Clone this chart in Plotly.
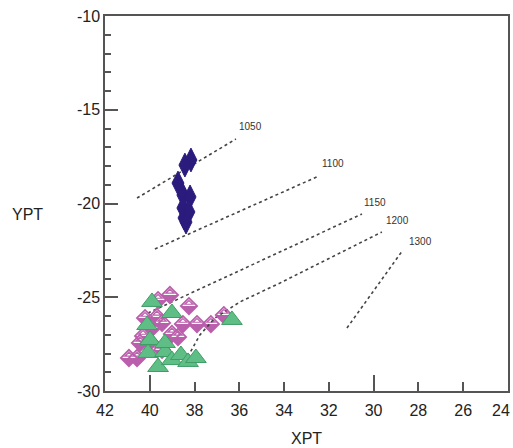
import plotly.graph_objects as go

# ---- data -------------------------------------------------------------
navy_x = [38.16, 38.43, 38.74, 38.52, 38.20, 38.52, 38.25, 38.47, 38.38]
navy_y = [-17.68, -17.95, -18.91, -19.55, -19.65, -20.24, -20.45, -20.77, -20.99]

pink_x = [40.93, 40.57, 40.21, 39.68, 39.45, 39.63, 39.10, 38.25, 38.52, 37.89,
          37.27, 36.69, 39.01, 40.30, 39.99, 40.44, 39.45, 39.90, 38.74]
pink_y = [-28.24, -28.24, -26.11, -26.05, -26.37, -25.15, -24.88, -25.47, -26.43, -26.43,
          -26.43, -25.95, -26.96, -27.07, -27.39, -27.44, -27.81, -26.64, -27.12]

green_x = [39.90, 39.01, 36.33, 40.12, 39.99, 40.08, 39.32, 39.63, 39.01, 38.61,
           38.29, 37.94, 39.32]
green_y = [-25.25, -25.84, -26.21, -26.48, -27.28, -27.97, -27.92, -28.72, -28.35, -28.08,
           -28.45, -28.24, -27.44]

iso_labels = ["1050", "1100", "1150", "1200", "1300"]
iso_x = [
    [40.57, 36.15],
    [39.77, 32.44],
    [40.08, 30.52],
    [38.43, 37.76, 37.09, 35.97, 34.18, 31.95, 29.63],
    [31.19, 28.69],
]
iso_y = [
    [-19.71, -16.56],
    [-22.43, -18.53],
    [-25.84, -20.56],
    [-28.45, -27.01, -26.11, -25.25, -24.24, -22.91, -21.52],
    [-26.64, -22.48],
]
label_x = [35.52, 31.82, 29.94, 28.91, 27.89]
label_y = [-15.87, -17.89, -19.97, -20.93, -22.05]

x_ticks = [42, 40, 38, 36, 34, 32, 30, 28, 26, 24]
x_major = [40, 30]
y_ticks = [-30, -25, -20, -15, -10]

# ---- styling ----------------------------------------------------------
FONT = "Liberation Sans, Arial, sans-serif"
AXIS_COLOR = "#555555"
TEXT_COLOR = "#222222"
NAVY = "#2B1B7D"
PINK = "#BA5FAC"
GREEN_FILL = "#5FBD86"
GREEN_LINE = "#3E9E66"
DOT_COLOR = "#444444"

W, HGT = 513, 448
ML, MR, MT, MB = 105, 5, 16, 57
PW, PH = W - ML - MR, HGT - MT - MB

fig = go.Figure()

# isotherm guide lines
for xs, ys in zip(iso_x, iso_y):
    fig.add_trace(go.Scatter(
        x=xs, y=ys, mode="lines",
        line=dict(color=DOT_COLOR, width=1.6, dash="dot"),
        hoverinfo="skip", showlegend=False,
    ))

fig.add_trace(go.Scatter(
    x=navy_x, y=navy_y, mode="markers",
    marker=dict(symbol="diamond-tall", size=17, color=NAVY,
                line=dict(color=NAVY, width=1)),
    showlegend=False,
))

# half-filled diamonds: outline marker over a filled lower half (shapes below)
fig.add_trace(go.Scatter(
    x=pink_x, y=pink_y, mode="markers",
    marker=dict(symbol="diamond-open", size=12.5, color=PINK,
                line=dict(color=PINK, width=1.8)),
    showlegend=False,
))

fig.add_trace(go.Scatter(
    x=green_x, y=green_y, mode="markers",
    marker=dict(symbol="triangle-up", size=18, color=GREEN_FILL,
                line=dict(color=GREEN_LINE, width=1)),
    showlegend=False,
))

H = 8.1
shapes = []
for px_, py_ in zip(pink_x, pink_y):
    # white upper half
    shapes.append(dict(
        type="path", xref="x", yref="y",
        xsizemode="pixel", ysizemode="pixel",
        xanchor=px_, yanchor=py_,
        path=f"M{-H},0 L{H},0 L0,{H} Z",
        fillcolor="white", line=dict(width=0), layer="below",
    ))
    # filled lower half
    shapes.append(dict(
        type="path", xref="x", yref="y",
        xsizemode="pixel", ysizemode="pixel",
        xanchor=px_, yanchor=py_,
        path=f"M{-H},0 L{H},0 L0,{-H} Z",
        fillcolor=PINK, line=dict(width=0), layer="below",
    ))
    # inner stripe in the upper half
    shapes.append(dict(
        type="path", xref="x", yref="y",
        xsizemode="pixel", ysizemode="pixel",
        xanchor=px_, yanchor=py_,
        path="M-4,1.8 L4,1.8 L0,5.6 Z",
        fillcolor="rgba(0,0,0,0)", line=dict(color=PINK, width=1.2), layer="below",
    ))

annotations = []
for t, lx, ly in zip(iso_labels, label_x, label_y):
    annotations.append(dict(
        x=lx, y=ly, xref="x", yref="y", text=t, showarrow=False,
        font=dict(family=FONT, size=10, color="#333333"),
    ))

# axis titles, positioned in paper coordinates
annotations.append(dict(
    x=(27 - ML) / PW, y=1 - (215 - MT) / PH,
    xref="paper", yref="paper", xanchor="center", yanchor="middle",
    text="YPT", showarrow=False,
    font=dict(family=FONT, size=16, color=TEXT_COLOR),
))
annotations.append(dict(
    x=(306 - ML) / PW, y=1 - (438 - MT) / PH,
    xref="paper", yref="paper", xanchor="center", yanchor="middle",
    text="XPT", showarrow=False,
    font=dict(family=FONT, size=16, color=TEXT_COLOR),
))

# the last x label sits at the page edge, so it is right-aligned to stay inside
x_ticktext = [str(v) for v in x_ticks]
x_ticktext[-1] = ""
annotations.append(dict(
    x=(512 - ML) / PW, y=1 - (410 - MT) / PH,
    xref="paper", yref="paper", xanchor="right", yanchor="middle",
    text=str(x_ticks[-1]), showarrow=False,
    font=dict(family=FONT, size=16, color=TEXT_COLOR),
))

fig.update_layout(
    width=W, height=HGT,
    margin=dict(l=ML, r=MR, t=MT, b=MB, autoexpand=False),
    paper_bgcolor="white", plot_bgcolor="white",
    font=dict(family=FONT, color=TEXT_COLOR, size=16),
    shapes=shapes,
    annotations=annotations,
    xaxis=dict(
        range=[42.0, 23.995], tickvals=x_ticks, ticktext=x_ticktext,
        ticks="inside", ticklen=9, tickwidth=1.5, tickcolor=AXIS_COLOR,
        showline=True, linecolor=AXIS_COLOR, linewidth=1.5, mirror=True,
        showgrid=False, zeroline=False, ticklabelstandoff=4,
        automargin=False,
        tickfont=dict(size=16, family=FONT, color=TEXT_COLOR),
    ),
    xaxis2=dict(
        range=[42.0, 23.995], overlaying="x", anchor="y", side="bottom",
        tickvals=x_major, ticks="inside", ticklen=16, tickwidth=1.5, tickcolor=AXIS_COLOR,
        showticklabels=False, showgrid=False, zeroline=False, showline=False,
    ),
    yaxis=dict(
        range=[-30, -10], tickvals=y_ticks, ticktext=["%d" % v for v in y_ticks],
        ticks="inside", ticklen=13, tickwidth=1.5, tickcolor=AXIS_COLOR,
        minor=dict(dtick=1, ticks="inside", ticklen=6, tickwidth=1.5, tickcolor=AXIS_COLOR),
        showline=True, linecolor=AXIS_COLOR, linewidth=1.5, mirror=True,
        showgrid=False, zeroline=False, automargin=False,
        tickfont=dict(size=16, family=FONT, color=TEXT_COLOR),
    ),
)

# placeholder trace so the overlaid x-axis carrying the long ticks is drawn
fig.add_trace(go.Scatter(x=[None], y=[None], xaxis="x2", showlegend=False, hoverinfo="skip"))

fig.write_html("out.html")
